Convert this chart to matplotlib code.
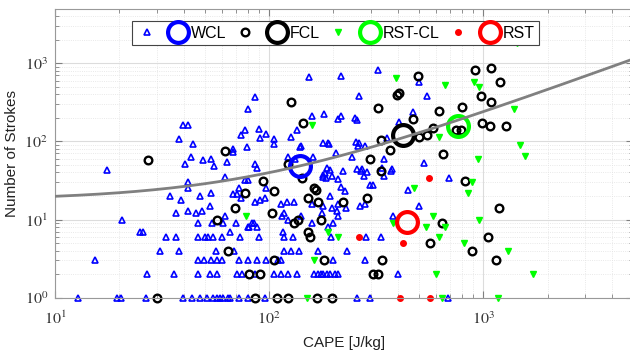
import matplotlib.pyplot as plt
import numpy as np
from matplotlib.lines import Line2D
from matplotlib.ticker import FuncFormatter, LogLocator

plt.rcParams['mathtext.fontset'] = 'stix'
plt.rcParams['font.family'] = ['Liberation Sans', 'DejaVu Sans']

# WCL events (blue triangles): CAPE [J/kg], number of strokes
wcl_cape = [12.8, 15.3, 17.5, 19.4, 20.3, 20.6, 25.0, 25.8, 26.5, 26.8, 30.8, 33, 34.3, 35.9,
            36.7, 36.8, 37.9, 38.1, 38.6, 39.7, 39.8, 40.4, 41.6, 42, 42, 42, 43, 43.5, 44.3,
            45.4, 46.4, 46.4, 46.4, 46.8, 47.6, 47.6, 48.4, 49.3, 49.7, 50, 51.2, 52, 52.7, 53,
            53.3, 53.6, 53.6, 54, 55, 55, 55.5, 56.8, 57, 57, 57, 59, 60, 60, 61, 61, 62, 62,
            63.5, 64.5, 65.7, 65.7, 67.5, 68, 68, 68.5, 70, 71, 71, 72.6, 72.6, 72.6, 73, 74, 74,
            74.5, 77, 77, 79, 80, 80, 80, 80, 80, 81, 83, 84.7, 86, 86, 86, 86, 88, 88, 88, 89.6,
            89.7, 91, 91, 96, 96.7, 96.7, 97, 96, 106, 106, 106, 110, 114, 114, 114, 115, 116,
            117, 118, 118, 121, 122, 122, 122, 126, 127, 129, 131, 132, 135, 135, 138, 139, 141,
            141, 154, 158, 159, 159, 161, 162, 169, 169, 175, 176, 178, 178, 178, 179, 179, 181,
            182, 184, 186, 187, 189, 189, 191, 193, 193, 193, 194, 196, 196, 198, 199, 203, 205,
            209, 207, 209, 210, 211, 211, 217, 218, 218, 221, 226, 230, 231, 243, 252, 254, 258,
            258, 261, 263, 263, 268, 271, 278, 280, 280, 282, 283, 288, 297, 305, 297, 257, 266,
            324, 333, 338, 346, 346, 354, 371, 375, 380, 402, 406, 446, 471, 502, 503, 528, 546,
            690, 686]
wcl_strokes = [1, 3, 43, 1, 1, 10, 7, 7, 1, 2, 4, 6, 20, 2,
               6, 12, 108, 4, 18, 1, 160, 51, 30, 25, 13, 160, 64, 1, 93,
               12, 6, 3, 9, 2, 1, 20, 13, 57, 3, 6, 1, 6, 15, 2,
               3, 22, 60, 9, 1, 6, 49, 4, 2, 1, 3, 1, 6, 3, 1, 9, 35, 11,
               54, 1, 1, 7, 74, 81, 21, 4, 9, 2, 21, 1, 3, 25, 6, 121, 19,
               2, 140, 32, 84, 257, 1, 32, 8, 3, 8, 9, 9, 372, 52, 17, 2, 45, 8, 3, 145,
               6, 112, 18, 19, 126, 25, 3, 1, 107, 92, 2, 3, 3, 2, 16, 11, 7,
               6, 12, 4, 17, 2, 10, 63, 113, 4, 6, 17, 60, 140, 2, 4, 84, 86,
               11, 658, 9, 211, 16, 63, 2, 2, 4, 2, 12, 94, 35, 2, 37, 15, 223,
               39, 34, 45, 2, 96, 8, 92, 43, 20, 2, 6, 36, 14, 9, 3, 2, 72,
               16, 13, 11, 193, 33, 2, 690, 211, 26, 42, 23, 14, 4, 63, 197, 99, 187,
               44, 86, 94, 380, 42, 44, 36, 16, 3, 88, 6, 41, 28, 28, 1, 1, 15,
               817, 6, 45, 60, 36, 109, 42, 44, 11, 2, 175, 24, 236, 567, 15, 53, 383,
               34, 1]

# FCL events (black circles)
fcl_cape = [27.2, 29.8, 57.3, 62, 64, 69, 77, 81, 86, 91, 94, 103, 106, 106, 109, 122, 122,
            126, 131, 137, 142, 144, 152, 155, 152, 162, 166, 167, 170, 174, 180, 197, 221,
            288, 295, 307, 322, 323, 333, 333, 337, 367, 398, 405, 471, 495, 500, 549, 566,
            585, 621, 646, 650, 745, 792, 798, 822, 884, 916, 985, 981, 1058, 1085, 1085,
            1080, 1150, 1185, 1200, 1285]
fcl_strokes = [58, 1, 10, 75, 4, 14, 22, 2, 1, 2, 31, 12, 23, 3, 1, 1, 51,
               315, 9, 10, 34, 170, 7, 6, 19, 25, 24, 1, 17, 10, 3, 1, 17,
               19, 59, 2, 271, 2, 104, 42, 3, 77, 393, 420, 193, 685, 115, 119, 5,
               147, 246, 9, 68, 140, 140, 272, 31, 4, 817, 170, 383, 6, 880, 315,
               155, 3, 14, 578, 155]

# RST-CL events (green)
rstcl_cape = [78, 151, 159, 163, 189, 211, 378, 390, 475, 542, 585, 603, 621, 620, 646, 664,
              663, 814, 852, 884, 904, 960, 942, 960, 1180, 1314, 1390, 1440, 1490, 1570, 1718]
rstcl_strokes = [11, 1, 162, 3, 7, 6, 9, 650, 25, 8, 11, 2, 6, 115, 1, 8,
                 530, 5, 22, 30, 573, 495, 59, 10, 1, 4, 257, 1790, 89, 65, 2]

# RST events (red)
rst_cape = [263, 410, 423, 556, 566]
rst_strokes = [6, 1, 5, 34, 1]

# class means (big circles)
mean_cape = [139, 423, 765, 443]
mean_strokes = [49, 122, 156, 9.3]
mean_colors = ['#0000ff', '#000000', '#00ff00', '#ff0000']
mean_labels = ['WCL', 'FCL', 'RST-CL', 'RST']

# fitted trend line: strokes = fit_intercept + fit_slope * CAPE
fit_slope = 0.222
fit_intercept = 17.6

fig = plt.figure(figsize=(6.3, 3.53), dpi=100)
ax = fig.add_axes([0.0873, 0.1567, 0.917, 0.819])
ax.set_xscale('log')
ax.set_yscale('log')

ax.plot(wcl_cape, wcl_strokes, '^', mfc='none', mec='#0000ff', ms=4.5, mew=1.2, ls='none',
        clip_on=False)
ax.plot(fcl_cape, fcl_strokes, 'o', mfc='none', mec='k', ms=5.5, mew=1.7, ls='none',
        clip_on=False)
ax.plot(rstcl_cape, rstcl_strokes, 'v', color='#00ff00', ms=4.5, ls='none', clip_on=False)
ax.plot(rst_cape, rst_strokes, 'o', color='#ff0000', ms=4, ls='none', clip_on=False)
for c, s, col in zip(mean_cape, mean_strokes, mean_colors):
    ax.plot([c], [s], 'o', mfc='none', mec=col, ms=15, mew=3, zorder=4)

xfit = np.logspace(1, np.log10(5000), 200)
ax.plot(xfit, fit_intercept + fit_slope * xfit, color='#808080', lw=2, zorder=5)

ax.set_xlim(10, 5000)
ax.set_ylim(1, 5000)
ax.set_axisbelow(True)
ax.grid(True, which='major', color='#dcdcdc', lw=0.8, ls='-')
ax.grid(True, which='minor', color='#e2e2e2', lw=0.6, ls=':')
ax.xaxis.set_major_locator(LogLocator(base=10, numticks=10))
ax.yaxis.set_major_locator(LogLocator(base=10, numticks=10))
fmt = FuncFormatter(lambda v, p: r'$10^{%d}$' % round(np.log10(v)))
ax.xaxis.set_major_formatter(fmt)
ax.yaxis.set_major_formatter(fmt)
ax.tick_params(which='both', direction='in', top=True, right=True, color='#808080',
               labelsize=11.5, labelcolor='#333333')
ax.tick_params(which='major', length=5)
ax.tick_params(which='minor', length=3)
ax.tick_params(axis='x', pad=9)
ax.tick_params(axis='y', pad=5)
for sp in ax.spines.values():
    sp.set_color('#999999')

ax.set_xlabel('CAPE [J/kg]', fontsize=11, color='#222222', labelpad=6)
ax.set_ylabel('Number of Strokes', fontsize=11, color='#222222', labelpad=4)

handles = []
labels = []
small = [('^', '#0000ff', 'none', 4.5, 1.2), ('o', '#000000', 'none', 5.5, 1.7),
         ('v', '#00ff00', '#00ff00', 4.5, 1.0), ('o', '#ff0000', '#ff0000', 4, 1.0)]
for (m, col, fc, ms, mw), big_col, lab in zip(small, mean_colors, mean_labels):
    handles.append(Line2D([], [], marker=m, mec=col, mfc=fc, ms=ms, mew=mw, ls='none'))
    labels.append('')
    handles.append(Line2D([], [], marker='o', mec=big_col, mfc='none', ms=15, mew=3, ls='none'))
    labels.append(lab)
leg = ax.legend(handles, labels, ncol=8, loc='upper center', bbox_to_anchor=(0.4856, 0.985),
                fontsize=11.5, handlelength=1.3, handletextpad=0.15, columnspacing=0.52,
                fancybox=False, framealpha=1, edgecolor='#444444', borderpad=0.3)
leg.get_frame().set_linewidth(0.8)

fig.savefig('out.png', dpi=100)
